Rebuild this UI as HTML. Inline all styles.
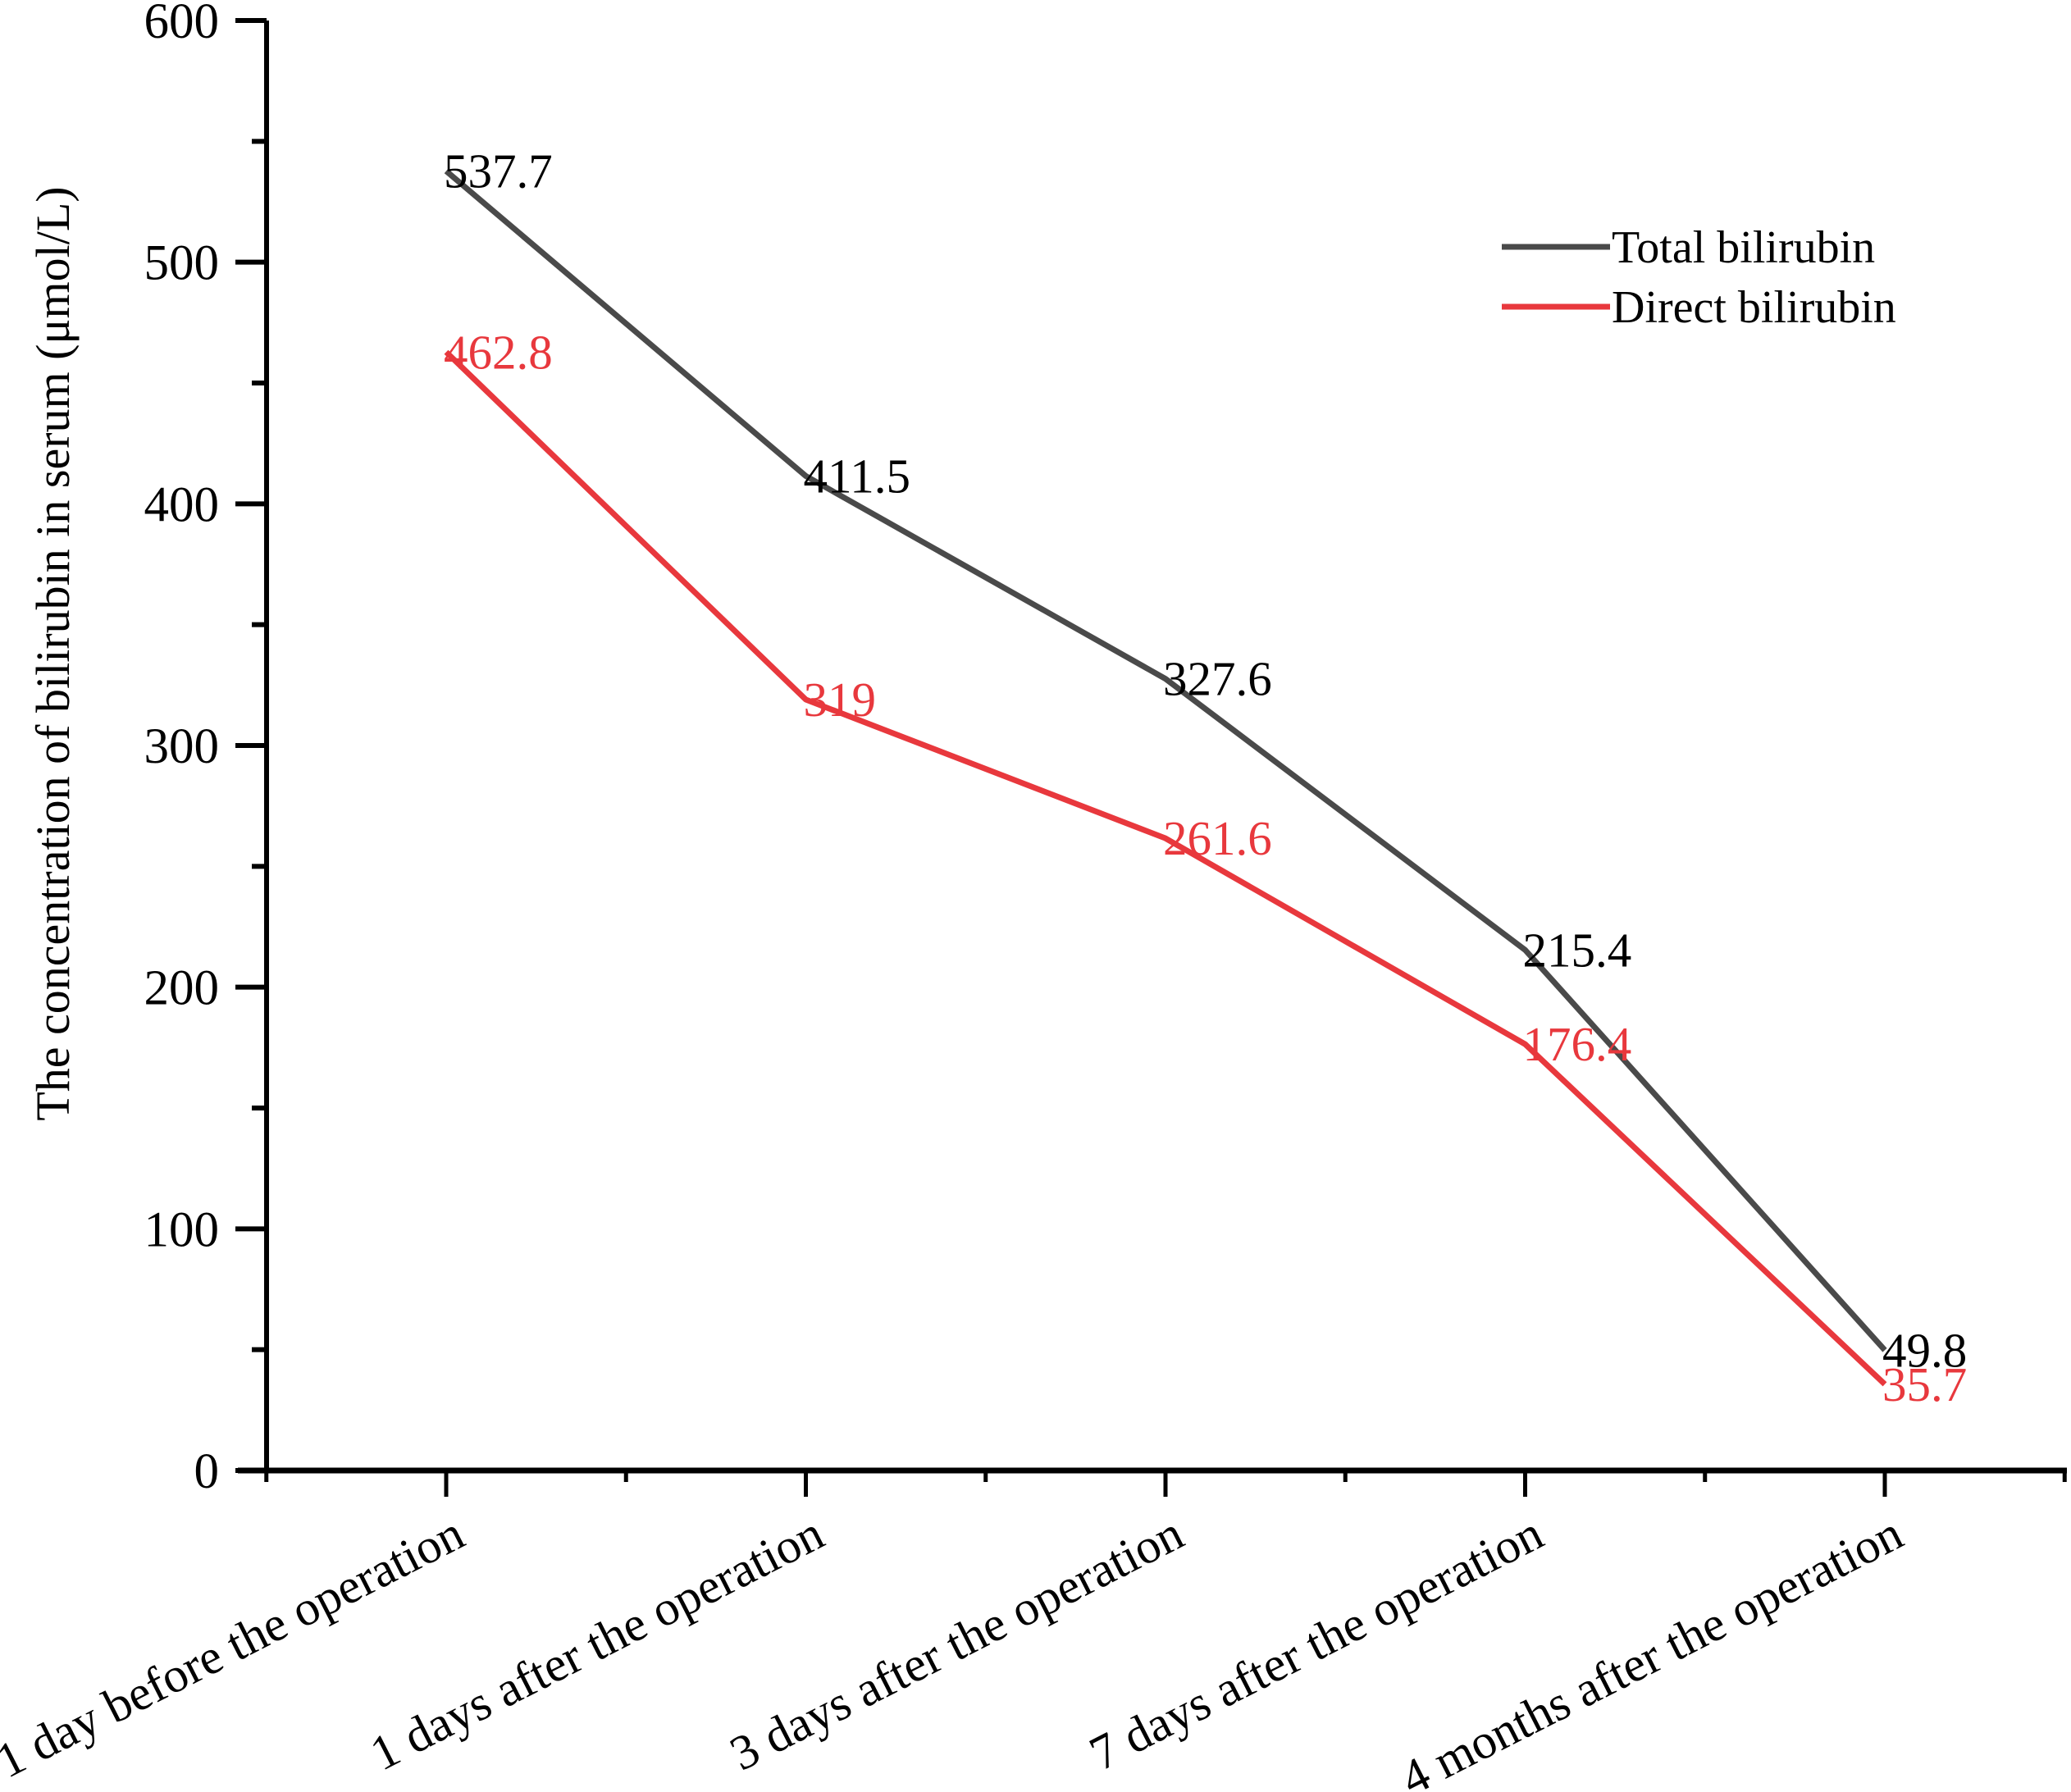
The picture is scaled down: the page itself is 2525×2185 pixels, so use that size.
<!DOCTYPE html>
<html><head><meta charset="utf-8"><style>
html,body{margin:0;padding:0;background:#fff}
svg{display:block}
text{font-family:"Liberation Serif",serif}
</style></head><body>
<svg id="chart" width="2525" height="2185" viewBox="0 0 2525 2185" xmlns="http://www.w3.org/2000/svg">
<g id="axes"></g><g id="series"></g>
<g>
<line x1="1831" y1="301" x2="1963" y2="301" stroke="#4a4a4a" stroke-width="7"/>
<text x="1965" y="320" font-size="56">Total bilirubin</text>
<line x1="1831" y1="374" x2="1963" y2="374" stroke="#e8383d" stroke-width="7"/>
<text x="1965" y="393" font-size="56">Direct bilirubin</text>
</g>
<text transform="translate(84,797) rotate(-90)" text-anchor="middle" font-size="58">The concentration of bilirubin in serum (μmol/L)</text>
</svg>
<script>
const categories=["1 day before the operation","1 days after the operation","3 days after the operation","7 days after the operation","4 months after the operation"];
const totalValues=[537.7,411.5,327.6,215.4,49.8];
const directValues=[462.8,319,261.6,176.4,35.7];
const totalLabels=["537.7","411.5","327.6","215.4","49.8"];
const directLabels=["462.8","319","261.6","176.4","35.7"];
const yTicks=[0,100,200,300,400,500,600];

const NS="http://www.w3.org/2000/svg";
const x0=325,y0=1793,yTop=25,xStart=544,xStep=438.5;
const X=i=>xStart+i*xStep;
const Y=v=>y0-(v/600)*(y0-yTop);
function mk(tag,attrs,parent){const e=document.createElementNS(NS,tag);for(const k in attrs)e.setAttribute(k,attrs[k]);parent.appendChild(e);return e;}
const ax=document.getElementById('axes');
const yl=mk('line',{x1:x0,y1:yTop,x2:x0,y2:y0,stroke:'#000','stroke-width':6},ax);


const xl=mk('line',{x1:290,y1:y0,x2:2520,y2:y0,stroke:'#000','stroke-width':7},ax);


yTicks.forEach((v,i)=>{
  const t=mk('line',{x1:x0-38,y1:Y(v),x2:x0,y2:Y(v),stroke:'#000','stroke-width':6},ax);
  
  
  if(i<yTicks.length-1){
    const m=mk('line',{x1:x0-18,y1:Y(v+50),x2:x0,y2:Y(v+50),stroke:'#000','stroke-width':6},ax);
    
    
  }
  const l=mk('text',{x:x0-58,y:Y(v)+21,'text-anchor':'end','font-size':61},ax);
  l.textContent=v;
  
  
});
for(let k=-0.5;k<=categories.length-0.5;k+=0.5){
  const major=Number.isInteger(k);
  const t=mk('line',{x1:X(k),y1:y0,x2:X(k),y2:y0+(major?32:14),stroke:'#000','stroke-width':5},ax);
  
  
}
categories.forEach((c,i)=>{
  const l=mk('text',{transform:`translate(${X(i)+26},${y0+90}) rotate(-27)`,'text-anchor':'end','font-size':60},ax);
  l.textContent=c;
  
  
});
const sg=document.getElementById('series');
function series(vals,labels,color,textColor,name){
  const p=mk('polyline',{points:vals.map((v,i)=>X(i)+','+Y(v)).join(' '),fill:'none',stroke:color,'stroke-width':7,'stroke-linejoin':'round'},sg);
  
  
  vals.forEach((v,i)=>{
    const t=mk('text',{x:X(i)-3,y:Y(v)+20,'font-size':59,fill:textColor},sg);
    t.textContent=labels[i];
    
    
  });
}
series(totalValues,totalLabels,'#4a4a4a','#000','total-bilirubin');
series(directValues,directLabels,'#e8383d','#e8383d','direct-bilirubin');
</script>
</body></html>
